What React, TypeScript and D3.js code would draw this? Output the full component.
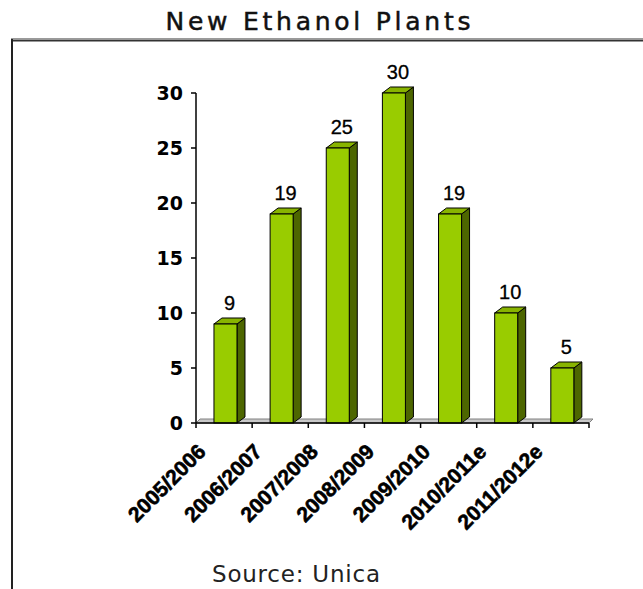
import React from "react";
import * as d3 from "d3";

const categories = ["2005/2006", "2006/2007", "2007/2008", "2008/2009", "2009/2010", "2010/2011e", "2011/2012e"];
const values = [9, 19, 25, 30, 19, 10, 5];
const yTicks = [0, 5, 10, 15, 20, 25, 30];
const title = "New Ethanol Plants";
const source = "Source: Unica";

export default function App() {
  const W = 643, H = 589;
  const x0 = 196, x1 = 589, y0 = 423, yTop = 93;
  const x = d3.scaleBand<string>().domain(categories).range([x0, x1]).paddingInner(0).paddingOuter(0);
  const y = d3.scaleLinear().domain([0, 30]).range([y0, yTop]);
  const bw = x.bandwidth();
  const dx = 8, dy = 6;
  const frontOff = bw * 0.32, frontW = bw * 0.41;
  const bounds = d3.range(categories.length + 1).map(i => x0 + i * bw);

  return (
    <svg width={W} height={H} style={{ position: "absolute", left: 0, top: 0, background: "#fff" }}>
      {/* frame */}
      <line x1={11} x2={W} y1={38.5} y2={38.5} stroke="#9a9a9a" strokeWidth={1} />
      <line x1={11} x2={W} y1={40.5} y2={40.5} stroke="#333" strokeWidth={2} />
      <line x1={12} x2={12} y1={39} y2={H} stroke="#222" strokeWidth={2} />

      <text x={318} y={30} textAnchor="middle" fontFamily="DejaVu Sans" fontSize={25} fill="#111" stroke="#111" strokeWidth={0.5} textLength={305} lengthAdjust="spacing">{title}</text>

      {/* floor */}
      <polygon points={`${x0},${y0} ${x1},${y0} ${x1 + 4},${y0 - 4} ${x0 + 4},${y0 - 4}`} fill="#c8c8c8" stroke="#808080" strokeWidth={1} />

      {/* y axis */}
      <line x1={x0} x2={x0} y1={yTop} y2={y0} stroke="#000" strokeWidth={1.5} />
      {yTicks.map(t => (
        <g key={t}>
          <line x1={x0 - 5} x2={x0} y1={y(t)} y2={y(t)} stroke="#000" strokeWidth={1.5} />
          <text x={183} y={y(t) + 7} textAnchor="end" fontFamily="DejaVu Sans" fontWeight="bold" fontSize={19} fill="#000">{t}</text>
        </g>
      ))}

      {/* bars */}
      {categories.map((c, i) => {
        const v = values[i];
        const fx = (x(c) as number) + frontOff;
        const fy = y(v);
        const fw = frontW;
        const fh = y0 - fy;
        return (
          <g key={c}>
            <polygon points={`${fx + fw},${fy} ${fx + fw + dx},${fy - dy} ${fx + fw + dx},${y0 - dy} ${fx + fw},${y0}`} fill="#4d6600" stroke="#000" strokeWidth={1} />
            <polygon points={`${fx},${fy} ${fx + dx},${fy - dy} ${fx + fw + dx},${fy - dy} ${fx + fw},${fy}`} fill="#88b400" stroke="#000" strokeWidth={1} />
            <rect x={fx} y={fy} width={fw} height={fh} fill="#99cc00" stroke="#000" strokeWidth={1} />
            <text x={fx + fw / 2 + dx / 2} y={fy - 14} textAnchor="middle" fontFamily="Liberation Sans" fontSize={20} fill="#000" stroke="#000" strokeWidth={0.3}>{v}</text>
          </g>
        );
      })}

      {/* x axis */}
      <line x1={x0} x2={x1} y1={y0} y2={y0} stroke="#000" strokeWidth={1.5} />
      {bounds.map((b, i) => (
        <line key={i} x1={b} x2={b} y1={y0} y2={y0 + 5} stroke="#000" strokeWidth={1.5} />
      ))}
      {categories.map(c => {
        const cx = (x(c) as number) + bw / 2 - 17;
        const cy = 453;
        return (
          <text key={c} x={cx} y={cy} transform={`rotate(-45 ${cx} ${cy})`} textAnchor="end" fontFamily="Liberation Sans" fontWeight="bold" fontSize={21} fill="#000" stroke="#000" strokeWidth={0.6}>{c}</text>
        );
      })}

      <text x={212} y={582} fontFamily="DejaVu Sans" fontSize={23} fill="#222" textLength={168} lengthAdjust="spacing">{source}</text>
    </svg>
  );
}
